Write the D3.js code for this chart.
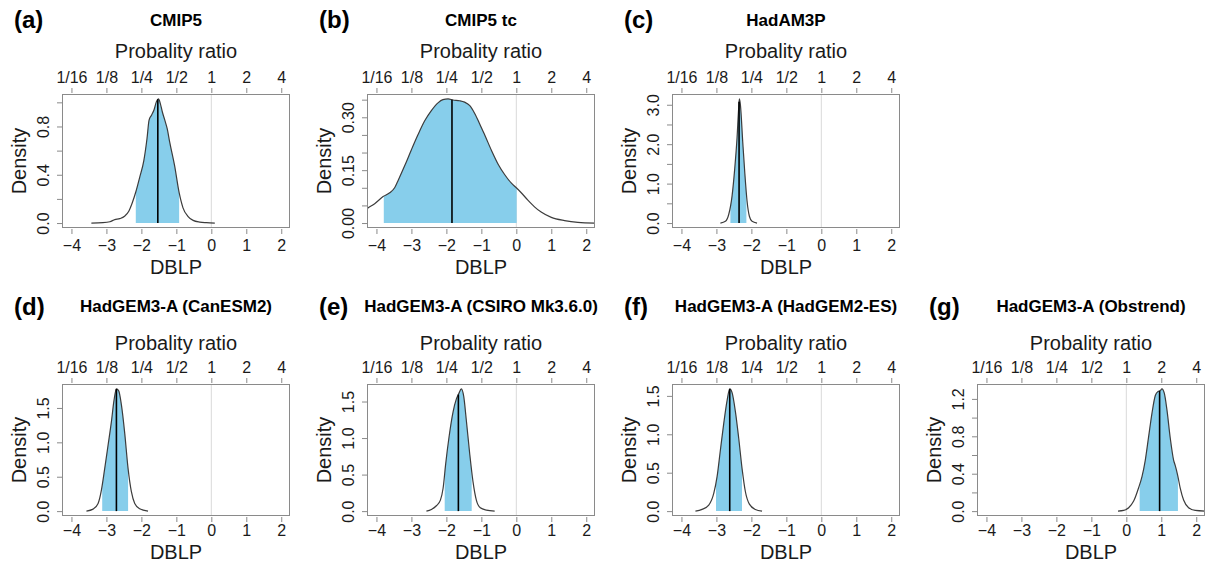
<!DOCTYPE html>
<html>
<head>
<meta charset="utf-8">
<script src="https://cdn.jsdelivr.net/npm/d3@7"></script>
<style>
  html, body { margin: 0; padding: 0; background: #fff; }
  svg { display: block; font-family: "Liberation Sans", Arial, Helvetica, sans-serif; }
</style>
</head>
<body>
<svg id="chart" width="1211" height="564"></svg>
<script>
// Panel identifiers and titles
const panelIds = ["(a)", "(b)", "(c)", "(d)", "(e)", "(f)", "(g)"];
const panelTitles = ["CMIP5", "CMIP5 tc", "HadAM3P", "HadGEM3-A (CanESM2)",
  "HadGEM3-A (CSIRO Mk3.6.0)", "HadGEM3-A (HadGEM2-ES)", "HadGEM3-A (Obstrend)"];
const panelRow = [0, 0, 0, 1, 1, 1, 1];
const panelCol = [0, 1, 2, 0, 1, 2, 3];

// Shared DBLP axis (bottom) and probability-ratio axis (top, PR = 2^DBLP)
const dblpTicks = [-4, -3, -2, -1, 0, 1, 2];
const ratioTickLabels = ["1/16", "1/8", "1/4", "1/2", "1", "2", "4"];

// Density axis ticks and labels per panel
const densityTicks = [
  [0, 0.2, 0.4, 0.6, 0.8, 1.0],
  [0, 0.05, 0.10, 0.15, 0.20, 0.25, 0.30, 0.35],
  [0, 0.5, 1.0, 1.5, 2.0, 2.5, 3.0],
  [0, 0.5, 1.0, 1.5],
  [0, 0.5, 1.0, 1.5],
  [0, 0.5, 1.0, 1.5],
  [0, 0.2, 0.4, 0.6, 0.8, 1.0, 1.2]
];
const densityTickLabels = [
  ["0.0", "", "0.4", "", "0.8", ""],
  ["0.00", "", "", "0.15", "", "", "0.30", ""],
  ["0.0", "", "1.0", "", "2.0", "", "3.0"],
  ["0.0", "0.5", "1.0", "1.5"],
  ["0.0", "0.5", "1.0", "1.5"],
  ["0.0", "0.5", "1.0", "1.5"],
  ["0.0", "", "0.4", "", "0.8", "", "1.2"]
];

// Kernel density estimates of DBLP: [DBLP, density]
const densityA = [[-3.43, 0], [-3.10, 0.003], [-2.90, 0.011], [-2.76, 0.028], [-2.62, 0.036],
  [-2.48, 0.056], [-2.36, 0.098], [-2.26, 0.168], [-2.16, 0.257], [-2.05, 0.377], [-1.93, 0.517],
  [-1.84, 0.698], [-1.78, 0.852], [-1.71, 0.894], [-1.64, 0.936], [-1.57, 1.006], [-1.51, 1.028],
  [-1.46, 0.992], [-1.40, 0.920], [-1.33, 0.852], [-1.26, 0.780], [-1.19, 0.670], [-1.05, 0.475],
  [-0.92, 0.251], [-0.81, 0.126], [-0.67, 0.056], [-0.52, 0.022], [-0.33, 0.008], [-0.14, 0.003],
  [0.10, 0]];
const densityB = [[-4.40, 0.033], [-4.24, 0.043], [-4.05, 0.055], [-3.81, 0.075], [-3.62, 0.086],
  [-3.48, 0.100], [-3.38, 0.121], [-3.19, 0.163], [-3.00, 0.208], [-2.81, 0.251], [-2.62, 0.290],
  [-2.43, 0.319], [-2.24, 0.341], [-2.10, 0.350], [-1.95, 0.352], [-1.81, 0.349], [-1.62, 0.347],
  [-1.48, 0.343], [-1.33, 0.333], [-1.19, 0.311], [-1.05, 0.282], [-0.90, 0.249], [-0.71, 0.206],
  [-0.52, 0.167], [-0.33, 0.137], [-0.14, 0.113], [0.00, 0.100], [0.14, 0.086], [0.33, 0.065],
  [0.52, 0.046], [0.71, 0.031], [1.00, 0.016], [1.38, 0.007], [1.76, 0.002], [2.24, 0]];
const densityC = [[-2.886, 0], [-2.743, 0.043], [-2.648, 0.216], [-2.552, 0.690], [-2.476, 1.379],
  [-2.410, 2.155], [-2.362, 2.931], [-2.343, 3.147], [-2.314, 3.000], [-2.248, 2.069],
  [-2.190, 1.293], [-2.124, 0.560], [-2.057, 0.172], [-1.981, 0.043], [-1.838, 0]];
const densityD = [[-3.571, 0], [-3.381, 0.029], [-3.238, 0.112], [-3.143, 0.306], [-3.048, 0.621],
  [-2.952, 0.961], [-2.857, 1.301], [-2.781, 1.617], [-2.714, 1.777], [-2.648, 1.748],
  [-2.571, 1.544], [-2.476, 1.131], [-2.381, 0.621], [-2.286, 0.282], [-2.190, 0.112],
  [-2.048, 0.034], [-1.810, 0]];
const densityE = [[-2.571, 0], [-2.429, 0.023], [-2.286, 0.073], [-2.171, 0.150], [-2.095, 0.309],
  [-2.019, 0.650], [-1.924, 1.014], [-1.810, 1.355], [-1.714, 1.536], [-1.648, 1.605],
  [-1.571, 1.673], [-1.505, 1.573], [-1.429, 1.241], [-1.333, 0.786], [-1.238, 0.400],
  [-1.143, 0.150], [-1.029, 0.045], [-0.857, 0.014], [-0.619, 0]];
const densityF = [[-3.600, 0], [-3.410, 0.022], [-3.219, 0.078], [-3.076, 0.230], [-2.981, 0.448],
  [-2.886, 0.796], [-2.790, 1.143], [-2.695, 1.439], [-2.619, 1.591], [-2.552, 1.543],
  [-2.457, 1.296], [-2.362, 0.948], [-2.267, 0.557], [-2.171, 0.252], [-2.057, 0.091],
  [-1.886, 0.022], [-1.695, 0]];
const densityG = [[-0.238, 0], [-0.076, 0.007], [0.067, 0.036], [0.210, 0.107], [0.352, 0.250],
  [0.448, 0.368], [0.543, 0.546], [0.638, 0.796], [0.733, 1.046], [0.829, 1.236], [0.905, 1.279],
  [0.971, 1.289], [1.019, 1.307], [1.086, 1.261], [1.162, 1.082], [1.257, 0.779], [1.352, 0.546],
  [1.400, 0.486], [1.467, 0.386], [1.543, 0.243], [1.638, 0.118], [1.781, 0.036], [1.971, 0.007],
  [2.257, 0]];

// Shaded interval bounds and median DBLP per panel
const rangeLower = [-2.16, -3.79, -2.600, -3.12, -2.048, -3.010, 0.381];
const rangeUpper = [-0.92, 0.01, -2.143, -2.38, -1.276, -2.267, 1.476];
const medians = [-1.53, -1.84, -2.352, -2.714, -1.657, -2.619, 0.952];

const densities = [densityA, densityB, densityC, densityD, densityE, densityF, densityG];

// Layout
const xDomain = [-4.27, 2.25];
const rows = [
  { top: 94, height: 134, idY: 28, titleY: 26, prY: 58, topTickY: 83, botTickY: 251, xlabY: 274 },
  { top: 384, height: 132, idY: 315, titleY: 312, prY: 350, topTickY: 373, botTickY: 536, xlabY: 559 }
];
const colLeft = 62, colStep = 305, boxWidth = 228;

const svg = d3.select("#chart");
const defs = svg.append("defs");
const boxColor = "#8a8a8a";
const textColor = "#1a1a1a";

function yAtX(node, px) {
  let lo = 0, hi = node.getTotalLength();
  for (let k = 0; k < 40; k++) {
    const mid = (lo + hi) / 2;
    if (node.getPointAtLength(mid).x < px) lo = mid; else hi = mid;
  }
  return node.getPointAtLength((lo + hi) / 2).y;
}

panelIds.forEach((pid, i) => {
  const row = rows[panelRow[i]];
  const left = colLeft + panelCol[i] * colStep;
  const top = row.top, height = row.height, bottom = top + height;
  const data = densities[i];

  const x = d3.scaleLinear().domain(xDomain).range([left, left + boxWidth]);
  const ymax = d3.max(data, d => d[1]);
  const y = d3.scaleLinear().domain([-0.04 * ymax, 1.04 * ymax]).range([bottom, top]);

  const g = svg.append("g");

  defs.append("clipPath").attr("id", "plot" + i)
    .append("rect").attr("x", left).attr("y", top).attr("width", boxWidth).attr("height", height);
  defs.append("clipPath").attr("id", "band" + i)
    .append("rect").attr("x", x(rangeLower[i])).attr("y", top)
    .attr("width", x(rangeUpper[i]) - x(rangeLower[i])).attr("height", height);

  const plot = g.append("g").attr("clip-path", `url(#plot${i})`);

  // reference line at DBLP = 0 (PR = 1)
  plot.append("line")
    .attr("x1", x(0)).attr("x2", x(0)).attr("y1", top).attr("y2", bottom)
    .attr("stroke", "#d9d9d9").attr("stroke-width", 1);

  const area = d3.area().x(d => x(d[0])).y0(y(0)).y1(d => y(d[1])).curve(d3.curveMonotoneX);
  const line = d3.line().x(d => x(d[0])).y(d => y(d[1])).curve(d3.curveMonotoneX);

  plot.append("g").attr("clip-path", `url(#band${i})`)
    .append("path").attr("d", area(data)).attr("fill", "#87ceeb");

  const curve = plot.append("path").attr("d", line(data))
    .attr("fill", "none").attr("stroke", "#3c3c3c").attr("stroke-width", 1.2);

  const mx = x(medians[i]);
  plot.append("line")
    .attr("x1", mx).attr("x2", mx).attr("y1", y(0)).attr("y2", yAtX(curve.node(), mx))
    .attr("stroke", "#000").attr("stroke-width", 1.6);

  // frame
  g.append("rect").attr("x", left + 0.5).attr("y", top + 0.5)
    .attr("width", boxWidth - 1).attr("height", height - 1)
    .attr("fill", "none").attr("stroke", boxColor).attr("stroke-width", 1);

  // bottom DBLP axis
  const ax = g.append("g").attr("transform", `translate(0,${bottom + 1})`)
    .call(d3.axisBottom(x).tickValues(dblpTicks).tickSize(5)
      .tickFormat(d => d < 0 ? "\u2212" + (-d) : String(d)));
  // top probability-ratio axis
  const at = g.append("g").attr("transform", `translate(0,${top - 1})`)
    .call(d3.axisTop(x).tickValues(dblpTicks).tickSize(5)
      .tickFormat((d, j) => ratioTickLabels[j]));
  // left density axis
  const al = g.append("g").attr("transform", `translate(${left},0)`)
    .call(d3.axisLeft(y).tickValues(densityTicks[i]).tickSize(5)
      .tickFormat((d, j) => densityTickLabels[i][j]));

  [ax, at, al].forEach(a => {
    a.select(".domain").remove();
    a.selectAll(".tick line").attr("stroke", boxColor);
    a.selectAll("text").attr("fill", textColor).style("font-size", "16px")
      .style("font-family", '"Liberation Sans", Arial, sans-serif');
  });
  ax.selectAll("text").attr("dy", null).attr("y", row.botTickY - bottom - 1);
  at.selectAll("text").attr("dy", null).attr("y", row.topTickY - top + 1);
  al.selectAll("text").attr("dy", null).attr("x", 0).attr("y", -13)
    .attr("text-anchor", "middle").attr("transform", "rotate(-90)");

  // axis titles
  const cx = left + boxWidth / 2;
  g.append("text").attr("x", cx).attr("y", row.xlabY).attr("text-anchor", "middle")
    .attr("fill", textColor).style("font-size", "20px").text("DBLP");
  g.append("text").attr("x", cx).attr("y", row.prY).attr("text-anchor", "middle")
    .attr("fill", textColor).style("font-size", "20px").text("Probality ratio");
  g.append("text").attr("transform", `translate(${left - 36},${top + height / 2}) rotate(-90)`)
    .attr("text-anchor", "middle").attr("fill", textColor).style("font-size", "20px").text("Density");

  // panel title and identifier
  g.append("text").attr("x", cx).attr("y", row.titleY).attr("text-anchor", "middle")
    .attr("fill", "#000").style("font-size", "17px").style("font-weight", "bold").text(panelTitles[i]);
  g.append("text").attr("x", left - 48).attr("y", row.idY)
    .attr("fill", "#000").style("font-size", "24px").style("font-weight", "bold").text(pid);
});
</script>
</body>
</html>
